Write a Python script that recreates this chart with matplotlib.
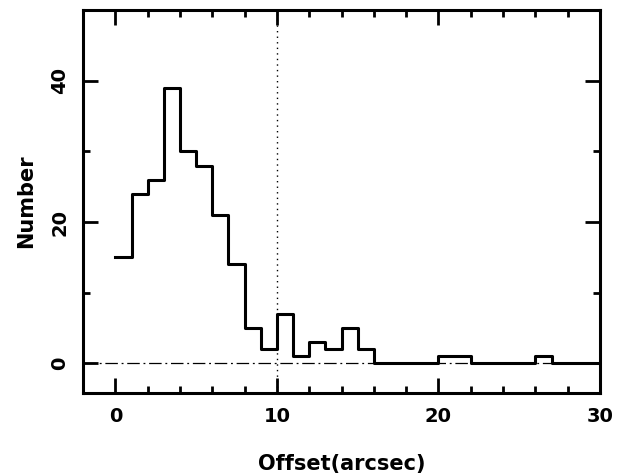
import numpy as np
import matplotlib.pyplot as plt
from matplotlib.ticker import MultipleLocator

# bin edges (arcsec) and counts per bin
edges = [0, 1, 2, 3, 4, 5, 6, 7, 8, 9, 10, 11, 12, 13, 14, 15, 16,
         17, 18, 19, 20, 21, 22, 23, 24, 25, 26, 27, 28, 29, 30]
counts = [15, 24, 26, 39, 30, 28, 21, 14, 5, 2, 7, 1, 3, 2, 5, 2, 0,
          0, 0, 0, 1, 1, 0, 0, 0, 0, 1, 0, 0, 0]
vline_x = 10

plt.rcParams['font.family'] = 'DejaVu Sans'
plt.rcParams['font.weight'] = 'bold'

fig = plt.figure(figsize=(6.29, 4.75), dpi=100)
ax = fig.add_axes([0.132, 0.1726, 0.822, 0.806])

ax.plot(edges, counts + [counts[-1]], drawstyle='steps-post', color='black', lw=2.2)
ax.axhline(0, color='black', lw=0.9, ls=(0, (10, 3, 1.5, 3)))
ax.axvline(vline_x, color='black', lw=1.0, ls=(0, (1, 3)))

ax.set_xlim(-2, 30)
ax.set_ylim(-4.2, 50)
ax.xaxis.set_major_locator(MultipleLocator(10))
ax.xaxis.set_minor_locator(MultipleLocator(2))
ax.yaxis.set_major_locator(MultipleLocator(20))
ax.yaxis.set_minor_locator(MultipleLocator(10))
ax.tick_params(which='both', direction='in', top=True, right=True, width=2, labelsize=14, pad=10)
ax.tick_params(which='major', length=11)
ax.tick_params(which='minor', length=5)
for lbl in ax.get_yticklabels():
    lbl.set_rotation(90)
    lbl.set_va('center')
for s in ax.spines.values():
    s.set_linewidth(2.2)

ax.set_xlabel('Offset(arcsec)', fontsize=15, fontweight='bold', labelpad=20)
ax.set_ylabel('Number', fontsize=15, fontweight='bold', labelpad=10)

fig.savefig('out.png', dpi=100)
